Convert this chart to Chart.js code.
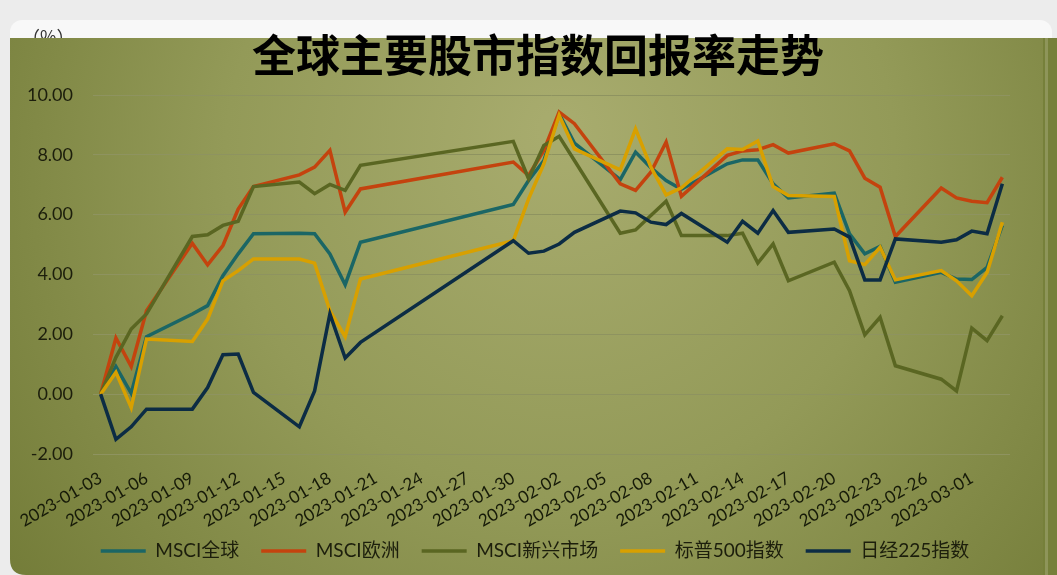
<!DOCTYPE html>
<html><head><meta charset="utf-8">
<script src="https://cdn.jsdelivr.net/npm/chart.js@4.4.0/dist/chart.umd.min.js"></script>
<style>html,body{margin:0;padding:0;background:#ececec;overflow:hidden}</style>
</head><body>
<canvas id="c" width="1057" height="575"></canvas>
<script>
const dates = ['2023-01-03','2023-01-04','2023-01-05','2023-01-06','2023-01-09','2023-01-10','2023-01-11','2023-01-12','2023-01-13','2023-01-16','2023-01-17','2023-01-18','2023-01-19','2023-01-20','2023-01-30','2023-01-31','2023-02-01','2023-02-02','2023-02-03','2023-02-06','2023-02-07','2023-02-08','2023-02-09','2023-02-10','2023-02-13','2023-02-14','2023-02-15','2023-02-16','2023-02-17','2023-02-20','2023-02-21','2023-02-22','2023-02-23','2023-02-24','2023-02-27','2023-02-28','2023-03-01','2023-03-02','2023-03-03'];
const msciWorld = [0,0.92,0.03,1.92,2.68,2.96,3.96,4.69,5.36,5.38,5.36,4.69,3.66,5.08,6.34,7.14,7.81,9.37,8.39,7.17,8.09,7.57,7.14,6.85,7.70,7.83,7.83,7.03,6.56,6.72,5.36,4.69,4.94,3.74,4.07,3.85,3.83,4.24,5.64];
const msciEurope = [0,1.88,0.92,2.79,5.04,4.32,4.97,6.19,6.94,7.33,7.59,8.15,6.08,6.86,7.76,7.31,8.15,9.43,9.04,7.03,6.81,7.42,8.43,6.61,7.98,8.13,8.17,8.34,8.06,8.37,8.13,7.22,6.92,5.27,6.89,6.56,6.45,6.40,7.25];
const msciEM = [0,1.23,2.18,2.68,5.27,5.33,5.64,5.78,6.94,7.09,6.70,7.01,6.81,7.65,8.45,7.20,8.31,8.62,7.81,5.38,5.49,5.97,6.45,5.30,5.30,5.38,4.38,5.02,3.79,4.41,3.46,1.98,2.57,0.95,0.50,0.11,2.21,1.79,2.62];
const sp500 = [0,0.73,-0.45,1.84,1.76,2.51,3.79,4.13,4.52,4.52,4.38,2.79,1.92,3.85,5.13,6.53,7.70,9.32,8.20,7.50,8.87,7.59,6.66,6.90,8.20,8.18,8.46,6.94,6.64,6.61,4.46,4.33,4.91,3.82,4.13,3.79,3.29,4.07,5.75];
const nikkei = [0,-1.51,-1.09,-0.50,-0.50,0.22,1.32,1.34,0.06,-1.09,0.11,2.68,1.21,1.73,5.13,4.71,4.78,5.02,5.41,6.12,6.06,5.75,5.67,6.04,5.08,5.78,5.38,6.14,5.41,5.52,5.25,3.82,3.82,5.19,5.08,5.16,5.45,5.36,7.03];
const seriesNames = ['MSCI全球','MSCI欧洲','MSCI新兴市场','标普500指数','日经225指数'];
const xTickLabels = ['2023-01-03','2023-01-06','2023-01-09','2023-01-12','2023-01-15','2023-01-18','2023-01-21','2023-01-24','2023-01-27','2023-01-30','2023-02-02','2023-02-05','2023-02-08','2023-02-11','2023-02-14','2023-02-17','2023-02-20','2023-02-23','2023-02-26','2023-03-01'];
const yTickValues = [-2,0,2,4,6,8,10];

const base = Date.UTC(2023,0,3);
const dayOf = s => { const p = s.split('-').map(Number); return Math.round((Date.UTC(p[0],p[1]-1,p[2]) - base)/86400000); };
const labelByDay = {}; xTickLabels.forEach(s => labelByDay[dayOf(s)] = s);
const toPts = arr => arr.map((v,i) => ({x: dayOf(dates[i]), y: v}));

const colors = ['#1b6665','#c4430e','#5a6622','#d8a000','#0c2c44'];
const allSeries = [msciWorld, msciEurope, msciEM, sp500, nikkei];
const FONT = 'Lato, "Noto Sans CJK SC", sans-serif';

const bgPlugin = {
  id: 'bg',
  afterLayout(chart) {
    const lg = chart.legend;
    if (lg) { lg.left += 30; lg.right += 30; lg.top -= 8; lg.bottom -= 8; }
  },
  beforeDraw(chart) {
    const ctx = chart.ctx;
    ctx.save();
    ctx.fillStyle = '#ececec';
    ctx.fillRect(0,0,1057,575);
    ctx.fillStyle = '#f8f8f8';
    ctx.beginPath(); ctx.roundRect(10,20,1042,40,12); ctx.fill();
    ctx.fillStyle = '#333';
    ctx.font = '18px "Noto Sans CJK SC"';
    ctx.textBaseline = 'middle';
    ctx.fillText('（%）', 22, 37);
    const g = ctx.createRadialGradient(560,130,20,560,200,720);
    g.addColorStop(0,'#a7ab6d');
    g.addColorStop(0.45,'#939a58');
    g.addColorStop(1,'#6f7834');
    ctx.fillStyle = g;
    ctx.beginPath();
    ctx.moveTo(10,38); ctx.lineTo(1043,38); ctx.lineTo(1043,575); ctx.lineTo(26,575);
    ctx.quadraticCurveTo(10,575,10,559); ctx.closePath(); ctx.fill();
    ctx.fillStyle = '#76803a'; ctx.fillRect(1043,38,14,537);
    ctx.fillStyle = '#8e955a'; ctx.fillRect(1045,38,3,537);
    ctx.fillStyle = '#000';
    ctx.font = 'bold 44px "Noto Sans CJK SC"';
    ctx.textAlign = 'center';
    ctx.textBaseline = 'middle';
    ctx.fillText('全球主要股市指数回报率走势', 538, 55);
    ctx.restore();
  }
};

new Chart(document.getElementById('c'), {
  type: 'line',
  data: {
    datasets: allSeries.map((arr,i) => ({
      label: seriesNames[i],
      data: toPts(arr),
      borderColor: colors[i],
      backgroundColor: colors[i],
      borderWidth: 3.5,
      pointRadius: 0,
      tension: 0,
      order: 5 - i
    }))
  },
  options: {
    responsive: false,
    animation: false,
    devicePixelRatio: 1,
    layout: { padding: { top: 95, left: 0, right: 47, bottom: -3.5 } },
    plugins: {
      tooltip: { enabled: false },
      title: { display: false },
      legend: {
        position: 'bottom',
        labels: {
          usePointStyle: true, pointStyle: 'line', pointStyleWidth: 45,
          font: { size: 19, family: FONT }, color: '#1c1e0c', padding: 22,
          sort: (a,b) => a.datasetIndex - b.datasetIndex
        }
      }
    },
    scales: {
      x: {
        type: 'linear', min: -0.5, max: 59.5,
        grid: { display: false, drawTicks: false },
        border: { display: false },
        afterBuildTicks: s => { s.ticks = xTickLabels.map(t => ({ value: dayOf(t) })); },
        afterFit: s => { s.height = 73.5; },
        ticks: {
          autoSkip: false, minRotation: 30, maxRotation: 30, padding: 14,
          font: { size: 17, family: FONT }, color: '#161a08',
          callback: v => labelByDay[v] || ''
        }
      },
      y: {
        min: -2, max: 10,
        afterBuildTicks: s => { s.ticks = yTickValues.map(v => ({ value: v })); },
        afterFit: s => { s.width = 93; },
        grid: { color: '#8e9360', lineWidth: 1, drawTicks: false },
        border: { display: false },
        ticks: { padding: 20, font: { size: 18, family: FONT }, color: '#1c1e0c', callback: v => Number(v).toFixed(2) }
      }
    }
  },
  plugins: [bgPlugin]
});
</script>
</body></html>
